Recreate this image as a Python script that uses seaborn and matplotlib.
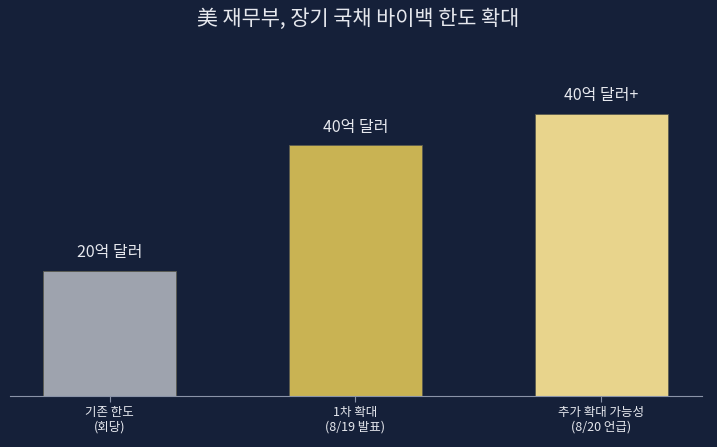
import matplotlib
matplotlib.use("Agg")
import matplotlib.pyplot as plt
import seaborn as sns
import pandas as pd

categories = ["기존 한도\n(회당)", "1차 확대\n(8/19 발표)", "추가 확대 가능성\n(8/20 언급)"]
values = [20, 40, 45]
value_labels = ["20억 달러", "40억 달러", "40억 달러+"]
bar_colors = ["#9ea3ae", "#c9b353", "#e8d48c"]
title = "美 재무부, 장기 국채 바이백 한도 확대"

BG = "#152039"
TEXT = "#e6e8ee"

sns.set_theme(style="white")
plt.rcParams['font.family'] = ['Noto Sans CJK KR', 'DejaVu Sans']

df = pd.DataFrame({"cat": categories, "val": values})

fig = plt.figure(figsize=(7.17, 4.47), dpi=100, facecolor=BG)
ax = fig.add_axes([0.014, 0.114, 0.965, 0.785])
ax.set_facecolor(BG)

sns.barplot(data=df, x="cat", y="val", hue="cat", palette=bar_colors,
            width=0.54, legend=False, ax=ax, saturation=1,
            edgecolor="#5a5a50", linewidth=0.6)

for i, (v, lab) in enumerate(zip(values, value_labels)):
    ax.annotate(lab, (i, v), xytext=(0, 7), textcoords="offset points",
                ha="center", va="bottom", color=TEXT, fontsize=11.5)

ax.set_xlim(-0.405, 2.41)
ax.set_ylim(0, 56)
ax.set_xlabel("")
ax.set_ylabel("")
ax.set_yticks([])
for s in ["top", "right", "left"]:
    ax.spines[s].set_visible(False)
ax.spines["bottom"].set_color("#8a93a8")
ax.spines["bottom"].set_linewidth(0.8)
ax.tick_params(axis="x", colors="#8a93a8", length=4, width=0.8, labelcolor=TEXT,
               labelsize=9, pad=3, bottom=True)

fig.text(0.5, 0.958, title, ha="center", va="center", color=TEXT, fontsize=15)

fig.savefig("out.png", dpi=100, facecolor=BG)
